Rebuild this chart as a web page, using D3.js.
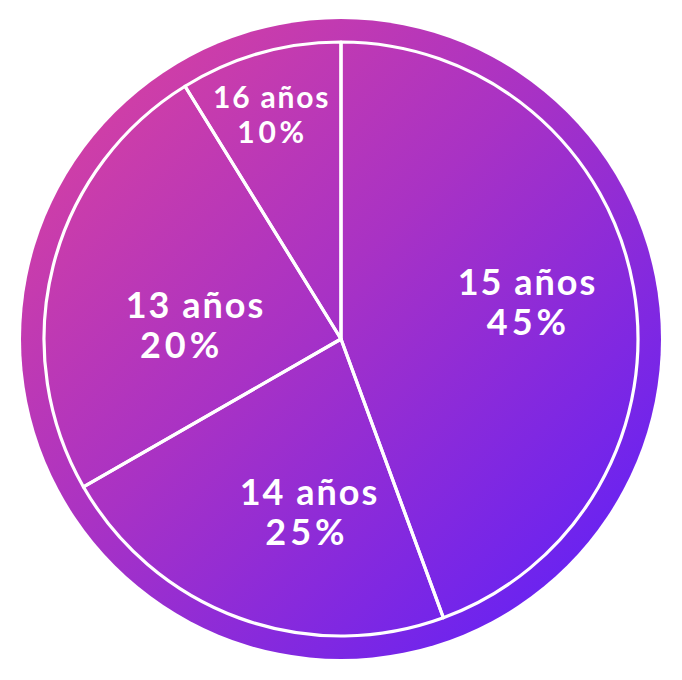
<!DOCTYPE html>
<html>
<head>
<meta charset="utf-8">
<script src="https://cdn.jsdelivr.net/npm/d3@7"></script>
<style>
  html, body { margin: 0; padding: 0; background: #fff; }
  svg { display: block; }
  text { font-family: "Lato", "Open Sans", sans-serif; font-weight: 700; fill: #fff; }
</style>
</head>
<body>
<svg id="chart" width="682" height="680"></svg>
<script>
// ---- data ----
const categories = ["15 años", "14 años", "13 años", "16 años"];
const percentLabels = ["45%", "25%", "20%", "10%"];
// slice shares as drawn in the picture (angles measured)
const sliceShares = [44.4, 22.3, 24.5, 8.8];

// ---- layout ----
const W = 682, H = 680;
const cx = 341, cy = 339;
const outerR = 320, innerR = 297;
// label placement: [angle deg clockwise from top, radius, font size, letter spacing, half line gap, line1 dx, line2 dx]
const labelLayout = [
  [82.6, 187, 36, 2, 20, 0, 0],
  [190.4, 188.6, 36, 2, 20, 1.5, -2],
  [270.4, 154, 36, 2, 20, 7.5, -7.5],
  [341.8, 224.7, 30, 1.8, 17.5, 0, 0]
];

const svg = d3.select("#chart");
const defs = svg.append("defs");
const grad = defs.append("linearGradient")
  .attr("id", "bg")
  .attr("x1", "0%").attr("y1", "0%")
  .attr("x2", "100%").attr("y2", "100%");
grad.append("stop").attr("offset", "0%").attr("stop-color", "#e0449a");
grad.append("stop").attr("offset", "45%").attr("stop-color", "#a932c4");
grad.append("stop").attr("offset", "100%").attr("stop-color", "#561eff");

const g = svg.append("g").attr("transform", `translate(${cx},${cy})`);

g.append("circle").attr("r", outerR).attr("fill", "url(#bg)")
  .attr("cx", 0).attr("cy", 0);

const pie = d3.pie().sort(null).value(d => d)(sliceShares);
const arc = d3.arc().innerRadius(0).outerRadius(innerR);

g.selectAll("path.slice")
  .data(pie)
  .join("path")
  .attr("class", "slice")
  .attr("d", arc)
  .attr("fill", "none")
  .attr("stroke", "#fff")
  .attr("stroke-width", 3.2)
  .attr("stroke-linejoin", "round");

const labels = g.selectAll("g.label")
  .data(pie)
  .join("g")
  .attr("class", "label")
  .attr("transform", (d, i) => {
    const [a, r] = labelLayout[i];
    const rad = a * Math.PI / 180;
    return `translate(${r * Math.sin(rad)},${-r * Math.cos(rad)})`;
  });

labels.append("text")
  .attr("text-anchor", "middle")
  .attr("x", (d, i) => labelLayout[i][5] + labelLayout[i][3] / 2)
  .attr("y", (d, i) => -labelLayout[i][4])
  .attr("font-size", (d, i) => labelLayout[i][2])
  .attr("letter-spacing", (d, i) => labelLayout[i][3])
  .text((d, i) => categories[i]);

labels.append("text")
  .attr("text-anchor", "middle")
  .attr("x", (d, i) => labelLayout[i][6] + labelLayout[i][3])
  .attr("y", (d, i) => labelLayout[i][4])
  .attr("font-size", (d, i) => labelLayout[i][2])
  .attr("letter-spacing", (d, i) => labelLayout[i][3] + 2)
  .text((d, i) => percentLabels[i]);
</script>
</body>
</html>
